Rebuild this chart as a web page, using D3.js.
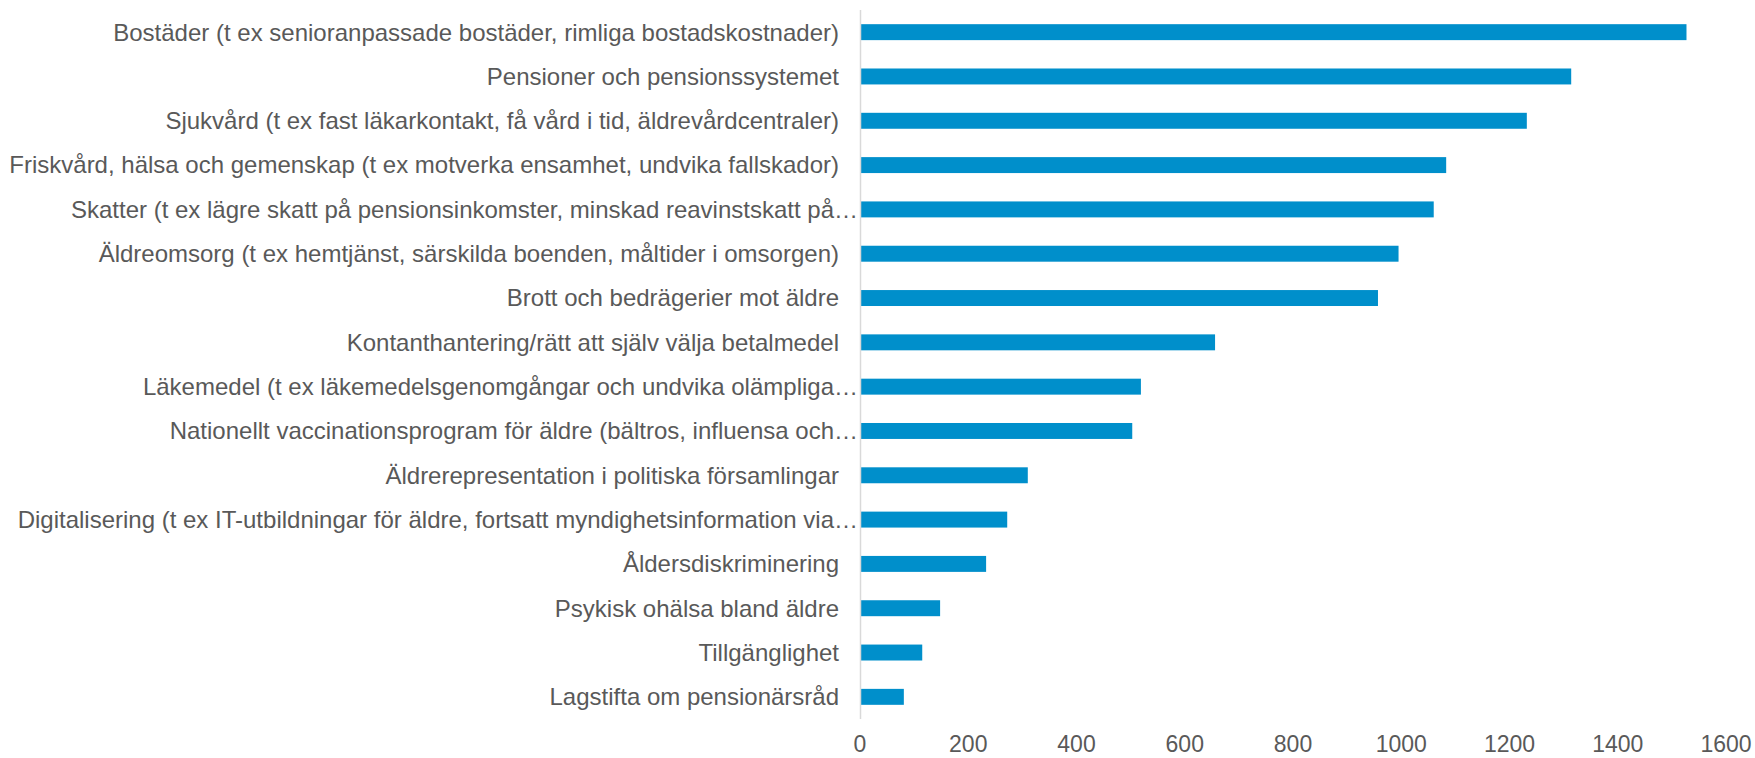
<!DOCTYPE html>
<html>
<head>
<meta charset="utf-8">
<script src="https://cdn.jsdelivr.net/npm/d3@7"></script>
<style>
  body { margin: 0; background: #fff; }
  svg { display: block; font-family: "Liberation Sans", Arial, sans-serif; }
</style>
</head>
<body>
<div id="chart"></div>
<script>
// categories top to bottom
const categories = [
  'Bostäder (t ex senioranpassade bostäder, rimliga bostadskostnader)',
  'Pensioner och pensionssystemet',
  'Sjukvård (t ex fast läkarkontakt, få vård i tid, äldrevårdcentraler)',
  'Friskvård, hälsa och gemenskap (t ex motverka ensamhet, undvika fallskador)',
  'Skatter (t ex lägre skatt på pensionsinkomster, minskad reavinstskatt på…',
  'Äldreomsorg (t ex hemtjänst, särskilda boenden, måltider i omsorgen)',
  'Brott och bedrägerier mot äldre',
  'Kontanthantering/rätt att själv välja betalmedel',
  'Läkemedel (t ex läkemedelsgenomgångar och undvika olämpliga…',
  'Nationellt vaccinationsprogram för äldre (bältros, influensa och…',
  'Äldrerepresentation i politiska församlingar',
  'Digitalisering (t ex IT-utbildningar för äldre, fortsatt myndighetsinformation via…',
  'Åldersdiskriminering',
  'Psykisk ohälsa bland äldre',
  'Tillgänglighet',
  'Lagstifta om pensionärsråd'
];
const values = [1527, 1314, 1232, 1083, 1060, 995, 957, 656, 519, 503, 310, 272, 233, 148, 115, 81];
const xTicks = [0, 200, 400, 600, 800, 1000, 1200, 1400, 1600];

const width = 1755, height = 758;
const margin = { top: 10, right: 29, bottom: 39, left: 860 };

const svg = d3.select('#chart').append('svg')
  .attr('width', width).attr('height', height);

const x = d3.scaleLinear().domain([0, 1600]).range([margin.left, width - margin.right]);
const y = d3.scaleBand().domain(categories).range([margin.top, height - margin.bottom]).paddingInner(0.64).paddingOuter(0.32);

svg.append('g').selectAll('rect')
  .data(categories)
  .join('rect')
  .attr('x', x(0))
  .attr('y', (d) => y(d))
  .attr('width', (d, i) => x(values[i]) - x(0))
  .attr('height', y.bandwidth())
  .attr('fill', '#008fcb');

// vertical category axis line
svg.append('line')
  .attr('x1', x(0) + 0.5).attr('x2', x(0) + 0.5)
  .attr('y1', margin.top).attr('y2', height - margin.bottom)
  .attr('stroke', '#d9d9d9').attr('stroke-width', 1.5);

svg.append('g').selectAll('text')
  .data(categories)
  .join('text')
  .attr('x', (d) => d.endsWith('…') ? x(0) - 2 : x(0) - 21)
  .attr('y', (d) => y(d) + y.bandwidth() / 2)
  .attr('dy', '0.35em')
  .attr('text-anchor', 'end')
  .attr('fill', '#595959')
  .attr('font-size', 24)
  .text((d) => d);

svg.append('g').selectAll('text')
  .data(xTicks)
  .join('text')
  .attr('x', (d) => x(d))
  .attr('y', 744)
  .attr('dy', '0.35em')
  .attr('text-anchor', 'middle')
  .attr('fill', '#595959')
  .attr('font-size', 23)
  .text((d) => d);
</script>
</body>
</html>
